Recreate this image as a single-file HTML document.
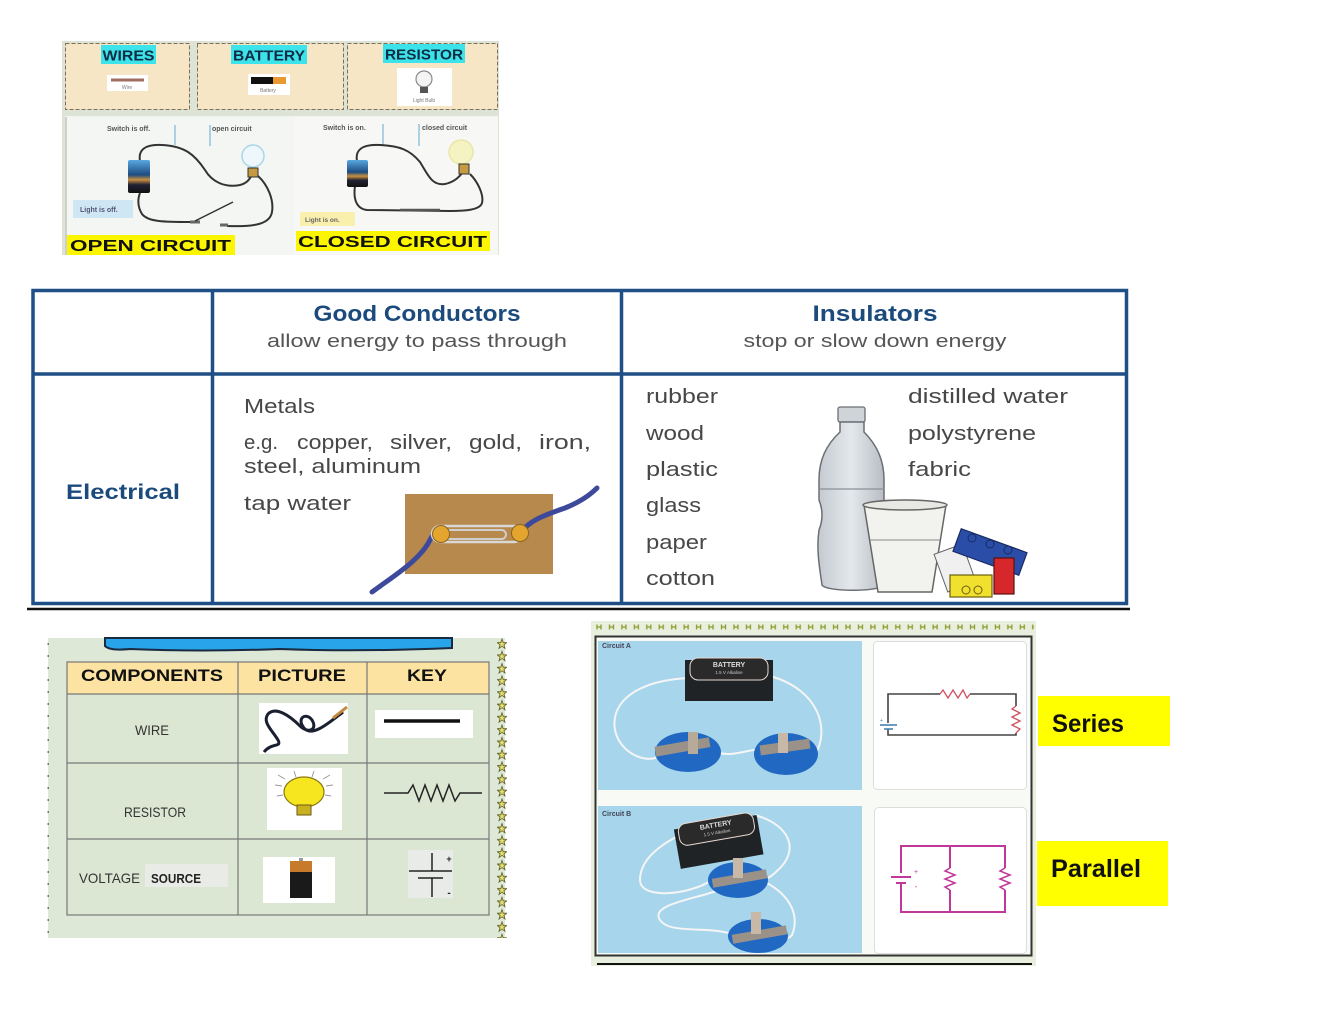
<!DOCTYPE html>
<html><head><meta charset="utf-8"><style>
html,body{margin:0;padding:0;background:#fff;}
svg{display:block;}
text{font-family:"Liberation Sans",sans-serif;}
</style></head><body>
<svg width="1320" height="1020" viewBox="0 0 1320 1020" xmlns="http://www.w3.org/2000/svg">
<defs>
<pattern id="stars" x="497" y="638" width="10" height="12.3" patternUnits="userSpaceOnUse">
<polygon points="5,1 6.2,4.6 9.8,4.6 6.9,6.8 8,10.4 5,8.2 2,10.4 3.1,6.8 0.2,4.6 3.8,4.6" fill="#e6e070" stroke="#5a5a20" stroke-width="0.8"/>
</pattern>
<pattern id="hm" x="596" y="623" width="12.45" height="8" patternUnits="userSpaceOnUse">
<path d="M1,1.5v5M5,1.5v5M1,4h4" stroke="#8f9a2a" stroke-width="1.3" fill="none"/>
</pattern>
<pattern id="dots" x="47" y="640" width="3" height="12" patternUnits="userSpaceOnUse">
<rect x="0.5" y="3" width="1.5" height="2" fill="#777"/>
</pattern>
<linearGradient id="batt" x1="0" y1="0" x2="0" y2="1">
<stop offset="0" stop-color="#5aa8e0"/><stop offset="0.45" stop-color="#1d4c80"/><stop offset="0.6" stop-color="#c99040"/><stop offset="0.75" stop-color="#223"/><stop offset="1" stop-color="#111"/>
</linearGradient>
<linearGradient id="bottle" x1="0" y1="0" x2="1" y2="0">
<stop offset="0" stop-color="#c4cad0"/><stop offset="0.5" stop-color="#e4e8ec"/><stop offset="1" stop-color="#b8bec4"/>
</linearGradient>
</defs>

<!-- ============ TOP-LEFT IMAGE ============ -->
<rect x="62" y="41" width="437" height="214" fill="#dde3d5"/>
<rect x="65.5" y="43.5" width="124" height="66" fill="#f7e6c6" stroke="#7d6f58" stroke-width="1" stroke-dasharray="4,2"/>
<rect x="197.5" y="43.5" width="146" height="66" fill="#f7e6c6" stroke="#7d6f58" stroke-width="1" stroke-dasharray="4,2"/>
<rect x="347.5" y="43.5" width="150" height="66" fill="#f7e6c6" stroke="#7d6f58" stroke-width="1" stroke-dasharray="4,2"/>
<rect x="101" y="45" width="55" height="19" fill="#3de3ea"/>
<text x="128.5" y="60.5" font-size="14.5" font-weight="bold" fill="#0e2c44" text-anchor="middle" textLength="52" lengthAdjust="spacingAndGlyphs">WIRES</text>
<rect x="231" y="45" width="76" height="19" fill="#3de3ea"/>
<text x="269" y="60.5" font-size="14.5" font-weight="bold" fill="#0e2c44" text-anchor="middle" textLength="72" lengthAdjust="spacingAndGlyphs">BATTERY</text>
<rect x="383" y="44" width="82" height="19" fill="#3de3ea"/>
<text x="424" y="59.5" font-size="14.5" font-weight="bold" fill="#0e2c44" text-anchor="middle" textLength="78" lengthAdjust="spacingAndGlyphs">RESISTOR</text>
<!-- icons -->
<rect x="107" y="75" width="41" height="16" fill="#fff"/>
<line x1="111" y1="80" x2="144" y2="80" stroke="#a06e60" stroke-width="3"/>
<text x="127" y="89" font-size="5" fill="#777" text-anchor="middle">Wire</text>
<rect x="248" y="74" width="42" height="21" fill="#fff"/>
<rect x="251" y="77" width="22" height="7" fill="#111"/>
<rect x="273" y="77" width="13" height="7" fill="#e89a30"/>
<text x="268" y="92" font-size="5" fill="#777" text-anchor="middle">Battery</text>
<rect x="397" y="68" width="55" height="38" fill="#fff"/>
<circle cx="424" cy="79" r="8" fill="#f4f4f4" stroke="#888" stroke-width="1.2"/>
<rect x="420" y="87" width="8" height="6" fill="#555"/>
<text x="424" y="102" font-size="5" fill="#777" text-anchor="middle">Light Bulb</text>

<!-- bottom panel -->
<rect x="65" y="116" width="433" height="139" fill="#f1f3f0"/>
<rect x="66" y="117" width="226" height="138" fill="#f4f6f3"/>
<rect x="293" y="117" width="205" height="138" fill="#f7f8f6"/>
<line x1="66" y1="117" x2="66" y2="255" stroke="#aaa" stroke-width="1"/>
<text x="107" y="131" font-size="7" font-weight="bold" fill="#555">Switch is off.</text>
<text x="212" y="131" font-size="7" font-weight="bold" fill="#555">open circuit</text>
<text x="323" y="130" font-size="7" font-weight="bold" fill="#555">Switch is on.</text>
<text x="422" y="130" font-size="7" font-weight="bold" fill="#555">closed circuit</text>
<line x1="175" y1="125" x2="175" y2="145" stroke="#7bb7d6" stroke-width="1.2"/>
<line x1="210" y1="125" x2="210" y2="146" stroke="#7bb7d6" stroke-width="1.2"/>
<line x1="383" y1="124" x2="383" y2="145" stroke="#7bb7d6" stroke-width="1.2"/>
<line x1="419" y1="124" x2="419" y2="146" stroke="#7bb7d6" stroke-width="1.2"/>
<!-- open circuit drawing -->
<path d="M140,161 C138,150 145,144 162,145 C185,146 195,155 205,170 C212,182 225,188 240,185 C248,183 250,178 252,175" fill="none" stroke="#333" stroke-width="2"/>
<path d="M258,176 C268,185 274,200 272,212 C270,224 255,227 227,226" fill="none" stroke="#333" stroke-width="2"/>
<path d="M190,222 C165,222 148,222 142,214 C137,206 138,198 140,193" fill="none" stroke="#333" stroke-width="2"/>
<line x1="190" y1="222" x2="200" y2="222" stroke="#666" stroke-width="3"/>
<line x1="195" y1="221" x2="233" y2="202" stroke="#333" stroke-width="1.5"/>
<line x1="220" y1="225" x2="228" y2="225" stroke="#666" stroke-width="3"/>
<rect x="128" y="160" width="22" height="33" rx="2" fill="url(#batt)"/>
<circle cx="253" cy="156" r="11" fill="#eef7fb" stroke="#a9d6e8" stroke-width="1.5"/>
<rect x="248" y="168" width="10" height="9" fill="#c59a40" stroke="#333" stroke-width="1"/>
<rect x="73" y="200" width="60" height="18" fill="#cfe7f5"/>
<text x="80" y="212" font-size="7" font-weight="bold" fill="#557">Light is off.</text>
<!-- closed circuit drawing -->
<path d="M357,161 C355,150 362,144 380,145 C400,146 410,150 420,162 C428,175 432,186 445,184 C455,182 460,176 463,172" fill="none" stroke="#333" stroke-width="2"/>
<path d="M470,174 C478,182 484,195 482,203 C480,210 465,211 450,211 L367,210 C357,209 353,200 355,186" fill="none" stroke="#333" stroke-width="2"/>
<line x1="400" y1="210" x2="440" y2="210" stroke="#555" stroke-width="2.5"/>
<rect x="347" y="160" width="21" height="27" rx="2" fill="url(#batt)"/>
<circle cx="461" cy="152" r="12" fill="#f6f3c2" stroke="#eae6a8" stroke-width="1.5"/>
<rect x="459" y="164" width="10" height="10" fill="#c59a40" stroke="#333" stroke-width="1"/>
<rect x="300" y="212" width="55" height="14" fill="#faf0ae"/>
<text x="305" y="222" font-size="6.5" font-weight="bold" fill="#666">Light is on.</text>
<!-- labels -->
<rect x="67" y="235" width="168" height="20" fill="#fbf500"/>
<text x="70" y="251" font-size="16" font-weight="bold" fill="#111" textLength="161" lengthAdjust="spacingAndGlyphs">OPEN CIRCUIT</text>
<rect x="296" y="231" width="194" height="20" fill="#fbf500"/>
<text x="298" y="247" font-size="16" font-weight="bold" fill="#111" textLength="189" lengthAdjust="spacingAndGlyphs">CLOSED CIRCUIT</text>

<!-- ============ CONDUCTORS TABLE ============ -->
<g stroke="#1e4f86" stroke-width="3.5" fill="none">
<rect x="33" y="290.5" width="1093.5" height="313"/>
<line x1="212.5" y1="290" x2="212.5" y2="604"/>
<line x1="621.5" y1="290" x2="621.5" y2="604"/>
<line x1="33" y1="374" x2="1127" y2="374"/>
</g>
<line x1="27" y1="609" x2="1130" y2="609" stroke="#111" stroke-width="2.5"/>

<text x="417" y="321" font-size="22" font-weight="bold" fill="#1b4a7c" text-anchor="middle" textLength="207" lengthAdjust="spacingAndGlyphs">Good Conductors</text>
<text x="417" y="347" font-size="18" fill="#555" text-anchor="middle" textLength="300" lengthAdjust="spacingAndGlyphs">allow energy to pass through</text>
<text x="875" y="321" font-size="22" font-weight="bold" fill="#1b4a7c" text-anchor="middle" textLength="125" lengthAdjust="spacingAndGlyphs">Insulators</text>
<text x="875" y="347" font-size="18" fill="#555" text-anchor="middle" textLength="263" lengthAdjust="spacingAndGlyphs">stop or slow down energy</text>
<text x="66" y="499" font-size="21" font-weight="bold" fill="#1b4a7c" textLength="114" lengthAdjust="spacingAndGlyphs">Electrical</text>

<g font-size="20" fill="#474747">
<text x="244" y="413" textLength="71" lengthAdjust="spacingAndGlyphs">Metals</text>
<text x="244" y="449" textLength="34" lengthAdjust="spacingAndGlyphs">e.g.</text>
<text x="297" y="449" textLength="76" lengthAdjust="spacingAndGlyphs">copper,</text>
<text x="390" y="449" textLength="62" lengthAdjust="spacingAndGlyphs">silver,</text>
<text x="469" y="449" textLength="53" lengthAdjust="spacingAndGlyphs">gold,</text>
<text x="539" y="449" textLength="52" lengthAdjust="spacingAndGlyphs">iron,</text>
<text x="244" y="473" textLength="177" lengthAdjust="spacingAndGlyphs">steel, aluminum</text>
<text x="244" y="510" textLength="107" lengthAdjust="spacingAndGlyphs">tap water</text>
<text x="646" y="403" textLength="72" lengthAdjust="spacingAndGlyphs">rubber</text>
<text x="646" y="440" textLength="58" lengthAdjust="spacingAndGlyphs">wood</text>
<text x="646" y="476" textLength="72" lengthAdjust="spacingAndGlyphs">plastic</text>
<text x="646" y="512" textLength="55" lengthAdjust="spacingAndGlyphs">glass</text>
<text x="646" y="549" textLength="61" lengthAdjust="spacingAndGlyphs">paper</text>
<text x="646" y="585" textLength="69" lengthAdjust="spacingAndGlyphs">cotton</text>
<text x="908" y="403" textLength="160" lengthAdjust="spacingAndGlyphs">distilled water</text>
<text x="908" y="440" textLength="128" lengthAdjust="spacingAndGlyphs">polystyrene</text>
<text x="908" y="476" textLength="63" lengthAdjust="spacingAndGlyphs">fabric</text>
</g>

<!-- paperclip board -->
<rect x="405" y="494" width="148" height="80" fill="#b8894c"/>
<path d="M372,592 C395,575 420,560 430,540 C434,532 438,530 442,534" fill="none" stroke="#3d4a9c" stroke-width="5" stroke-linecap="round"/>
<path d="M520,533 C530,520 545,515 565,508 C580,502 590,495 597,488" fill="none" stroke="#3d4a9c" stroke-width="5" stroke-linecap="round"/>
<rect x="432" y="526" width="90" height="16" rx="8" fill="none" stroke="#d8d8d8" stroke-width="2.5"/>
<rect x="446" y="530" width="60" height="9" rx="4.5" fill="none" stroke="#cfcfcf" stroke-width="2"/>
<circle cx="441" cy="534" r="8.5" fill="#e3a52e" stroke="#8a6520" stroke-width="1"/>
<circle cx="520" cy="533" r="8.5" fill="#e3a52e" stroke="#8a6520" stroke-width="1"/>

<!-- bottle -->
<rect x="838" y="407" width="27" height="15" rx="2" fill="#cfd4d9" stroke="#6a6f75" stroke-width="1.3"/>
<path d="M840,422 L840,432 C826,445 819,460 819,480 L819,500 C823,510 823,520 819,530 C816,550 820,570 822,585 C826,592 880,592 884,585 L884,480 C884,460 877,445 864,432 L864,422 Z" fill="url(#bottle)" stroke="#6a6f75" stroke-width="1.5"/>
<line x1="819" y1="489" x2="884" y2="489" stroke="#8a9097" stroke-width="1.2"/>
<!-- cup -->
<path d="M864,505 L878,592 L932,592 L946,505 Z" fill="#f2f2ee" stroke="#666" stroke-width="1.5"/>
<ellipse cx="905" cy="505" rx="42" ry="5" fill="#e8e8e4" stroke="#666" stroke-width="1.5"/>
<line x1="870" y1="540" x2="940" y2="540" stroke="#888" stroke-width="1"/>
<!-- lego -->
<rect x="940" y="548" width="30" height="40" fill="#f0f0f0" stroke="#666" stroke-width="1" transform="rotate(-20 955 568)"/>
<rect x="955" y="540" width="70" height="24" fill="#2a4ea8" stroke="#1a2a60" stroke-width="1.2" transform="rotate(20 990 552)"/>
<circle cx="972" cy="538" r="4" fill="#2a4ea8" stroke="#1a2a60"/>
<circle cx="990" cy="544" r="4" fill="#2a4ea8" stroke="#1a2a60"/>
<circle cx="1008" cy="550" r="4" fill="#2a4ea8" stroke="#1a2a60"/>
<rect x="994" y="558" width="20" height="36" fill="#d6282a" stroke="#5a1010" stroke-width="1.2"/>
<rect x="950" y="575" width="42" height="22" fill="#f2e02e" stroke="#6a6010" stroke-width="1.2"/>
<circle cx="966" cy="590" r="4" fill="none" stroke="#6a6010"/>
<circle cx="978" cy="590" r="4" fill="none" stroke="#6a6010"/>

<!-- ============ COMPONENTS PANEL ============ -->
<rect x="48" y="638" width="457" height="300" fill="#dee8d6"/>
<rect x="47" y="640" width="3" height="296" fill="url(#dots)"/>
<rect x="497" y="638" width="10" height="300" fill="url(#stars)"/>
<path d="M105,638 V646 Q110,651 130,649 Q200,652 280,649 Q360,652 452,648 V638 Z" fill="#27a4ea" stroke="#1a2a40" stroke-width="2"/>
<rect x="67" y="662" width="422" height="32" fill="#fce3a2"/>
<rect x="67" y="694" width="422" height="221" fill="#dbe7d3"/>
<g stroke="#777" stroke-width="1.2" fill="none">
<rect x="67" y="662" width="422" height="253"/>
<line x1="67" y1="694" x2="489" y2="694"/>
<line x1="67" y1="763" x2="489" y2="763"/>
<line x1="67" y1="839" x2="489" y2="839"/>
<line x1="238" y1="662" x2="238" y2="915"/>
<line x1="367" y1="662" x2="367" y2="915"/>
</g>
<text x="152" y="681" font-size="17" font-weight="bold" fill="#111" text-anchor="middle" textLength="142" lengthAdjust="spacingAndGlyphs">COMPONENTS</text>
<text x="302" y="681" font-size="17" font-weight="bold" fill="#111" text-anchor="middle" textLength="88" lengthAdjust="spacingAndGlyphs">PICTURE</text>
<text x="427" y="681" font-size="17" font-weight="bold" fill="#111" text-anchor="middle" textLength="40" lengthAdjust="spacingAndGlyphs">KEY</text>
<text x="152" y="735" font-size="14" fill="#333" text-anchor="middle" textLength="34" lengthAdjust="spacingAndGlyphs">WIRE</text>
<text x="155" y="817" font-size="14" fill="#333" text-anchor="middle" textLength="62" lengthAdjust="spacingAndGlyphs">RESISTOR</text>
<rect x="145" y="864" width="83" height="23" fill="#e9ebe6"/>
<text x="79" y="883" font-size="14" fill="#333" textLength="61" lengthAdjust="spacingAndGlyphs">VOLTAGE</text>
<text x="151" y="883" font-size="13" font-weight="bold" fill="#222" textLength="50" lengthAdjust="spacingAndGlyphs">SOURCE</text>
<!-- wire pic -->
<rect x="259" y="703" width="89" height="51" fill="#fff"/>
<path d="M264,752 C272,742 282,748 278,740 C272,730 262,722 268,714 C276,706 290,716 300,726 C308,734 318,730 312,720 C306,712 296,718 304,728 C312,738 330,722 343,712" fill="none" stroke="#1a2030" stroke-width="3"/>
<line x1="333" y1="718" x2="347" y2="707" stroke="#c48a40" stroke-width="3"/>
<rect x="375" y="710" width="98" height="28" fill="#fff"/>
<line x1="384" y1="721" x2="460" y2="721" stroke="#111" stroke-width="3.5"/>
<!-- bulb pic -->
<rect x="267" y="768" width="75" height="62" fill="#fff"/>
<ellipse cx="304" cy="792" rx="20" ry="15" fill="#f6e620" stroke="#8a7a10" stroke-width="1.2"/>
<rect x="297" y="805" width="14" height="10" fill="#c8b020" stroke="#6a5a10" stroke-width="1"/>
<g stroke="#999" stroke-width="1">
<line x1="275" y1="785" x2="282" y2="786"/><line x1="278" y1="775" x2="285" y2="779"/>
<line x1="333" y1="785" x2="326" y2="786"/><line x1="330" y1="775" x2="323" y2="779"/>
<line x1="294" y1="771" x2="296" y2="777"/><line x1="314" y1="771" x2="312" y2="777"/>
<line x1="277" y1="796" x2="283" y2="795"/><line x1="331" y1="796" x2="325" y2="795"/>
</g>
<polyline points="384,793 408,793 413,785 419,801 425,785 431,801 437,785 443,801 449,785 455,801 460,793 482,793" fill="none" stroke="#222" stroke-width="1.5"/>
<!-- battery pic -->
<rect x="263" y="857" width="72" height="46" fill="#fff"/>
<rect x="290" y="861" width="22" height="12" fill="#c77a2a"/>
<rect x="290" y="872" width="22" height="26" fill="#1a1a1a"/>
<rect x="299" y="858" width="4" height="3" fill="#999"/>
<rect x="408" y="850" width="45" height="48" fill="#e9ebe8"/>
<g stroke="#222" stroke-width="1.5">
<line x1="432" y1="853" x2="432" y2="871"/>
<line x1="409" y1="871" x2="452" y2="871"/>
<line x1="418" y1="878" x2="443" y2="878"/>
<line x1="432" y1="878" x2="432" y2="897"/>
</g>
<text x="449" y="862" font-size="9" font-weight="bold" fill="#222" text-anchor="middle">+</text>
<text x="449" y="896" font-size="10" font-weight="bold" fill="#222" text-anchor="middle">-</text>

<!-- ============ CIRCUITS PANEL ============ -->
<rect x="591" y="621" width="445" height="345" fill="#e8efdf"/>
<rect x="594" y="623" width="440" height="8" fill="url(#hm)"/>
<rect x="595.5" y="636.5" width="436" height="319" fill="#f8faf6" stroke="#333" stroke-width="2"/>
<line x1="597" y1="964" x2="1032" y2="964" stroke="#111" stroke-width="2"/>
<!-- photo A -->
<rect x="598" y="641" width="264" height="149" fill="#a7d6ec"/>
<text x="602" y="648" font-size="7" font-weight="bold" fill="#445">Circuit A</text>
<path d="M690,678 C640,680 610,700 615,730 C620,755 650,765 660,755" fill="none" stroke="#f5f5f5" stroke-width="2"/>
<path d="M770,676 C820,690 830,730 815,755 C805,768 795,765 790,760" fill="none" stroke="#f5f5f5" stroke-width="2"/>
<path d="M715,752 C740,760 760,740 775,755" fill="none" stroke="#f5f5f5" stroke-width="2"/>
<rect x="685" y="660" width="88" height="41" fill="#1f2326"/>
<rect x="690" y="658" width="78" height="22" rx="8" fill="#2a2a2a" stroke="#e8d8d0" stroke-width="1"/>
<text x="729" y="667" font-size="7" font-weight="bold" fill="#ddd" text-anchor="middle">BATTERY</text>
<text x="729" y="674" font-size="4.5" fill="#ccc" text-anchor="middle">1.5 V Alkaline</text>
<ellipse cx="688" cy="752" rx="33" ry="20" fill="#2168c2"/>
<ellipse cx="786" cy="754" rx="32" ry="21" fill="#2168c2"/>
<rect x="655" y="742" width="55" height="10" fill="#9a9288" transform="rotate(-10 682 747)"/>
<rect x="688" y="732" width="10" height="22" fill="#b8aa98"/>
<rect x="760" y="742" width="50" height="10" fill="#9a9288" transform="rotate(-8 785 747)"/>
<rect x="778" y="733" width="10" height="20" fill="#c8b8a8"/>
<!-- diagram A -->
<rect x="873.5" y="641.5" width="153" height="148" rx="4" fill="#fff" stroke="#ddd" stroke-width="1"/>
<path d="M888,723 V694 H940 M970,694 H1016 V706 M1016,733 V735 H888 V729" fill="none" stroke="#444" stroke-width="1.6"/>
<polyline points="940,694 943,690 948,698 953,690 958,698 963,690 967,698 970,694" fill="none" stroke="#d05060" stroke-width="1.3"/>
<polyline points="1016,706 1012,709 1020,713 1012,717 1020,721 1012,725 1020,729 1016,733" fill="none" stroke="#d05060" stroke-width="1.3"/>
<line x1="880" y1="725" x2="897" y2="725" stroke="#3a7aaa" stroke-width="1.5"/>
<line x1="884" y1="729" x2="893" y2="729" stroke="#3a7aaa" stroke-width="1.5"/>
<text x="880" y="722" font-size="5" fill="#3a7aaa">+</text>
<!-- photo B -->
<rect x="598" y="806" width="264" height="147" fill="#a7d6ec"/>
<text x="602" y="816" font-size="7" font-weight="bold" fill="#445">Circuit B</text>
<path d="M680,835 C660,845 640,860 640,880 C640,900 690,895 712,880" fill="none" stroke="#f5f5f5" stroke-width="2"/>
<path d="M755,815 C790,825 800,850 778,870 C770,878 765,880 760,880" fill="none" stroke="#f5f5f5" stroke-width="2"/>
<path d="M720,890 C690,900 650,905 660,920 C670,935 710,925 735,935" fill="none" stroke="#f5f5f5" stroke-width="2"/>
<path d="M765,882 C790,895 800,915 792,935 C788,940 780,940 775,938" fill="none" stroke="#f5f5f5" stroke-width="2"/>
<g transform="rotate(-10 718 838)">
<rect x="676" y="822" width="84" height="40" fill="#1f2326"/>
<rect x="680" y="818" width="76" height="22" rx="8" fill="#2a2a2a" stroke="#e8d8d0" stroke-width="1"/>
<text x="718" y="827" font-size="7" font-weight="bold" fill="#ddd" text-anchor="middle">BATTERY</text>
<text x="718" y="834" font-size="4.5" fill="#ccc" text-anchor="middle">1.5 V Alkaline</text>
</g>
<ellipse cx="738" cy="880" rx="30" ry="18" fill="#2168c2"/>
<ellipse cx="758" cy="936" rx="30" ry="17" fill="#2168c2"/>
<rect x="712" y="874" width="55" height="9" fill="#9a9288" transform="rotate(-10 740 878)"/>
<rect x="733" y="858" width="10" height="20" fill="#c8b8a8"/>
<rect x="732" y="930" width="55" height="9" fill="#9a9288" transform="rotate(-10 760 934)"/>
<rect x="751" y="912" width="10" height="22" fill="#c8b8a8"/>
<!-- diagram B -->
<rect x="874.5" y="807.5" width="152" height="146" rx="4" fill="#fff" stroke="#ddd" stroke-width="1"/>
<path d="M901,873 V846 H1005 V868 M1005,890 V912 H901 V884 M950,846 V868 M950,890 V912" fill="none" stroke="#c0389a" stroke-width="2"/>
<polyline points="950,868 945,871 955,875 945,879 955,883 945,887 950,890" fill="none" stroke="#c0389a" stroke-width="1.5"/>
<polyline points="1005,868 1000,871 1010,875 1000,879 1010,883 1000,887 1005,890" fill="none" stroke="#c0389a" stroke-width="1.5"/>
<line x1="891" y1="877" x2="911" y2="877" stroke="#c0389a" stroke-width="2"/>
<line x1="896" y1="883" x2="906" y2="883" stroke="#c0389a" stroke-width="2"/>
<text x="916" y="874" font-size="7" fill="#c0389a" text-anchor="middle">+</text>
<text x="916" y="889" font-size="8" fill="#c0389a" text-anchor="middle">-</text>

<!-- ============ LABELS ============ -->
<rect x="1038" y="696" width="132" height="50" fill="#ffff00"/>
<text x="1052" y="732" font-size="25" font-weight="bold" fill="#111" textLength="72" lengthAdjust="spacingAndGlyphs">Series</text>
<rect x="1037" y="841" width="131" height="65" fill="#ffff00"/>
<text x="1051" y="877" font-size="25" font-weight="bold" fill="#111" textLength="90" lengthAdjust="spacingAndGlyphs">Parallel</text>
</svg>
</body></html>
